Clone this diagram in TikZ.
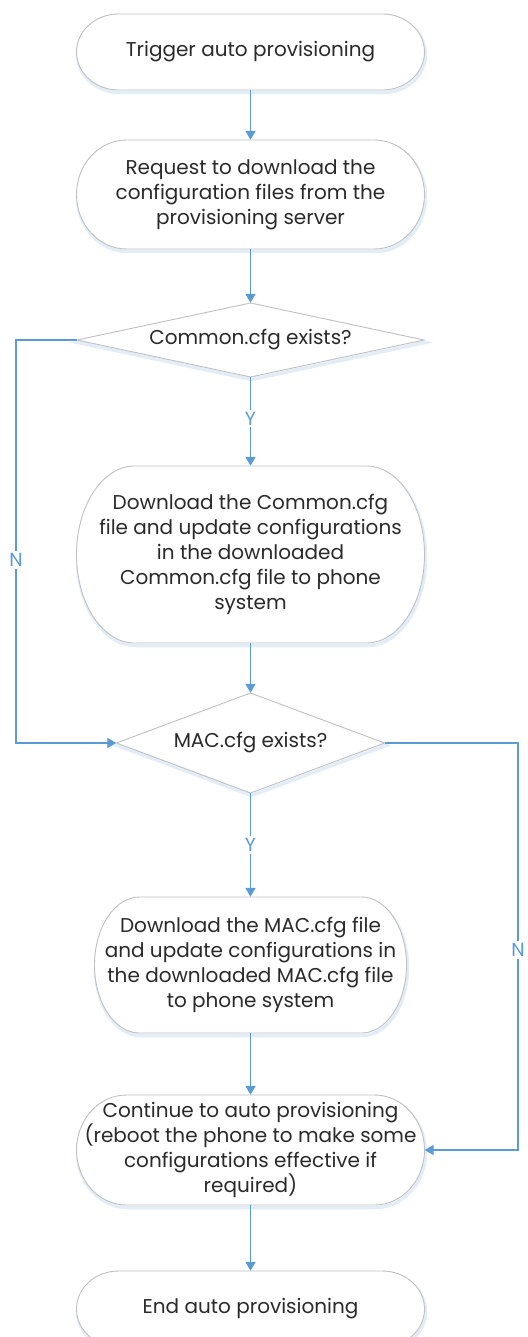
\documentclass[tikz,border=0pt]{standalone}
\usepackage{fontspec}
\setmainfont{Poppins}
\usetikzlibrary{calc,arrows.meta}

\definecolor{arrowblue}{HTML}{5B9BD5}
\definecolor{boxgray}{HTML}{C0C0C0}
\definecolor{shadowblue}{HTML}{E3EDF8}
\definecolor{txtgray}{HTML}{2A2A2A}

\tikzset{
  boxtext/.style={draw=none, shape=rectangle, align=center, inner sep=0pt,
    font=\fontsize{20}{25}\selectfont, text=txtgray},
  outline/.style={draw=boxgray, line width=0.9pt, fill=white},
  shade/.style={draw=shadowblue, line width=3.5pt},
  flow/.style={draw=arrowblue, line width=1.8pt, -{Triangle[width=10pt,length=9pt]}},
  lbl/.style={text=arrowblue, font=\fontsize{19}{19}\selectfont, fill=white, inner sep=2pt},
}

% #1 name, #2 cx, #3 cy, #4 w, #5 h, #6 rx, #7 text
\newcommand\stadium[7]{%
  \path[shade] ({#2-#4/2+#6+1},{-#3+#5/2-2.5}) -- ({#2+#4/2-#6+1},{-#3+#5/2-2.5})
     arc[start angle=90,end angle=-90,x radius=#6,y radius=#5/2]
     -- ({#2-#4/2+#6+1},{-#3-#5/2-2.5})
     arc[start angle=270,end angle=90,x radius=#6,y radius=#5/2] -- cycle;
  \path[outline] ({#2-#4/2+#6},{-#3+#5/2}) -- ({#2+#4/2-#6},{-#3+#5/2})
     arc[start angle=90,end angle=-90,x radius=#6,y radius=#5/2]
     -- ({#2-#4/2+#6},{-#3-#5/2})
     arc[start angle=270,end angle=90,x radius=#6,y radius=#5/2] -- cycle;
  \node[boxtext, minimum width=#4, minimum height=#5] (#1) at (#2,-#3) {#7};
}
% #1 name, #2 cx, #3 cy, #4 w, #5 h, #6 text
\newcommand\decisionbox[6]{%
  \path[shade] ({#2+1},{-#3+#5/2-2.5}) -- ({#2+#4/2+1},{-#3-2.5}) -- ({#2+1},{-#3-#5/2-2.5})
     -- ({#2-#4/2+1},{-#3-2.5}) -- cycle;
  \path[outline] ({#2},{-#3+#5/2}) -- ({#2+#4/2},{-#3}) -- ({#2},{-#3-#5/2})
     -- ({#2-#4/2},{-#3}) -- cycle;
  \node[boxtext, minimum width=#4, minimum height=#5] (#1) at (#2,-#3) {#6};
}

\begin{document}
\begin{tikzpicture}[x=1pt,y=1pt]
\useasboundingbox (0,0) rectangle (527,-1337);
\clip (0,0) rectangle (527,-1337);

\stadium{t1}{250.5}{52}{348}{76}{42}{Trigger auto provisioning}
\stadium{t2}{250.5}{194.5}{348}{109}{50}{Request to download the\\configuration files from the\\provisioning server}

\decisionbox{d1}{250.5}{340}{347}{74}{\raisebox{2pt}{Common.cfg exists?}}

\stadium{c1}{250.5}{554.5}{348}{177}{58}{Download the Common.cfg\\file and update configurations\\in the downloaded\\Common.cfg file to phone\\system}

\decisionbox{d2}{250.5}{743}{268}{100}{MAC.cfg exists?}

\stadium{m4}{250.5}{965}{312}{136}{45}{Download the MAC.cfg file\\and update configurations in\\the downloaded MAC.cfg file\\to phone system}
\stadium{m5}{250.5}{1150}{348}{110}{50}{Continue to auto provisioning\\(reboot the phone to make some\\configurations effective if\\required)}
\stadium{m6}{250.5}{1309}{348}{76}{42}{\raisebox{3pt}{End auto provisioning}}

\coordinate (lcorner) at (16,-743);
\coordinate (rcorner) at (518,-1150);

\draw[flow] (t1.south) -- (t2.north);
\draw[flow] (t2.south) -- (d1.north);
\draw[flow] (d1.south) -- node[lbl, pos=0.47] {Y} (c1.north);
\draw[flow] (c1.south) -- (d2.north);
\draw[flow] (d1.west) -| (lcorner) -- (d2.west);
\node[lbl] (nleft) at (16,-560) {N};
\draw[flow] (d2.south) -- node[lbl, pos=0.5] {Y} (m4.north);
\draw[flow] (d2.east) -| (rcorner) -- (m5.east);
\node[lbl] (nright) at (518,-950) {N};
\draw[flow] (m4.south) -- (m5.north);
\draw[flow] (m5.south) -- (m6.north);
\end{tikzpicture}
\end{document}
